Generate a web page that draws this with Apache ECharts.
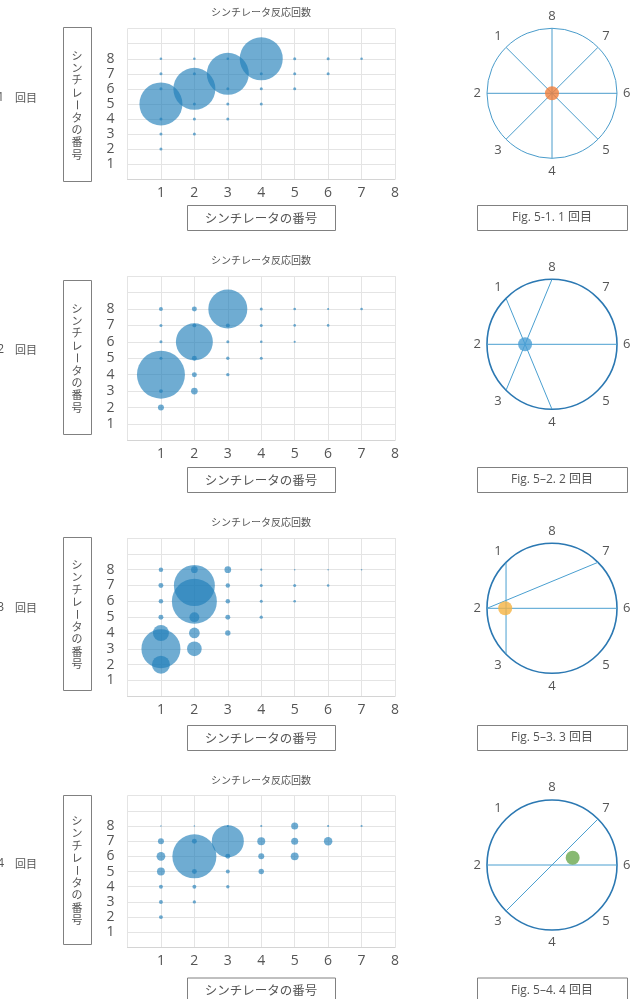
<!DOCTYPE html>
<html><head><meta charset="utf-8">
<script src="https://cdn.jsdelivr.net/npm/echarts@6/dist/echarts.min.js"></script>
<style>html,body{margin:0;padding:0;background:#fff}#c{width:640px;height:999px}</style>
</head><body><div id="c"></div>
<script>
// ---------- data ----------
const chartTitle = 'シンチレータ反応回数';
const axisTitle = 'シンチレータの番号';
const roundNums = ['1', '2', '3', '4'];
const roundSuffix = '回目';
const figCaptions = ['Fig. 5-1. 1 回目', 'Fig. 5–2. 2 回目', 'Fig. 5–3. 3 回目', 'Fig. 5–4. 4 回目'];
const xTickLabels = ['', '1', '2', '3', '4', '5', '6', '7', '8'];
const yTickLabels = ['', '1', '2', '3', '4', '5', '6', '7', '8', '', ''];
const circleLabels = ['8', '1', '2', '3', '4', '5', '6', '7', '8'];

// scintillator pairs (x = first, y = second)
const pairX = [1,1,1,1,1,1,1, 2,2,2,2,2,2, 3,3,3,3,3, 4,4,4,4, 5,5,5, 6,6, 7];
const pairY = [2,3,4,5,6,7,8, 3,4,5,6,7,8, 4,5,6,7,8, 5,6,7,8, 6,7,8, 7,8, 8];
// reaction counts per pair
const counts1 = [4,4,4,822,4,4,3, 4,4,4,784,4,3, 4,4,4,784,3, 4,4,4,822, 4,4,4, 4,4, 3];
const counts2 = [16,7,1024,4,4,4,7, 20,11,11,608,7,11, 5,5,4,7,676, 4,3,4,4, 2,3,3, 3,2, 3];
const counts3 = [144,676,114,11,9,11,9, 96,51,44,900,747,20, 13,11,9,9,20, 5,4,4,2, 3,4,1, 3,1, 1];
const counts4 = [7,7,7,28,34,16,1, 5,7,11,860,11,1, 5,7,11,455,2, 13,16,28,2, 28,22,22, 32,2, 2];
const allCounts = [counts1, counts2, counts3, counts4];

// chords in the circle diagrams (by scintillator number)
const chords1 = [[8,4],[1,5],[2,6],[3,7]];
const chords2 = [[8,3],[1,4],[2,6]];
const chords3 = [[1,3],[2,7],[2,6]];
const chords4 = [[7,3],[2,6]];
const allChords = [chords1, chords2, chords3, chords4];
// estimated source point: [radius fraction, angular position in scintillator units]
const dotPos = [[0, 0], [0.414, 2], [0.72, 2], [0.337, 6.43]];
const dotColors = ['#f07f3c', '#4a9fd4', '#f5b342', '#6aa84f'];

// ---------- layout ----------
const panels = [
  {gridTop: 28.7,  gridH: 150.4, titleY: 12,  xBoxY: 205,   yBox: [27, 181],  roundY: 98,  cy: 93.3},
  {gridTop: 276.1, gridH: 164.3, titleY: 260, xBoxY: 467,   yBox: [280, 434], roundY: 350, cy: 344.3},
  {gridTop: 538,   gridH: 158.3, titleY: 522, xBoxY: 725,   yBox: [537, 690], roundY: 608, cy: 608.3},
  {gridTop: 795.6, gridH: 151.9, titleY: 780, xBoxY: 977.5, yBox: [795, 944], roundY: 864, cy: 865}
];
const FONT = "'Open Sans','Noto Sans CJK JP',sans-serif";
const JFONT = "'Noto Sans CJK JP','Open Sans',sans-serif";
const TXT = '#555';
const bubbleColor = 'rgba(30,125,185,0.8)';

const grid = [], xAxis = [], yAxis = [], polar = [], angleAxis = [], radiusAxis = [], series = [], graphic = [];

panels.forEach((p, i) => {
  grid.push({left: 127.5, width: 267.5, top: p.gridTop, height: p.gridH});
  xAxis.push({
    gridIndex: i, type: 'value', min: 0, max: 8, interval: 1,
    axisLine: {show: true, lineStyle: {color: '#d4d4d4'}},
    axisTick: {show: false},
    splitLine: {show: true, lineStyle: {color: '#e4e4e4'}},
    axisLabel: {margin: 7, fontFamily: FONT, fontSize: 14, color: TXT, formatter: v => xTickLabels[v] || ''}
  });
  yAxis.push({
    gridIndex: i, type: 'value', min: 0, max: 10, interval: 1,
    axisLine: {show: false}, axisTick: {show: false},
    splitLine: {show: true, lineStyle: {color: '#e4e4e4'}},
    axisLabel: {margin: 13, fontFamily: FONT, fontSize: 14, color: TXT, formatter: v => yTickLabels[v] || ''}
  });
  series.push({
    type: 'scatter', xAxisIndex: i, yAxisIndex: i,
    data: pairX.map((x, k) => [x, pairY[k], allCounts[i][k]]),
    symbolSize: d => 1.5 * Math.sqrt(d[2]),
    itemStyle: {color: bubbleColor},
    animation: false, silent: true
  });

  const circColor = i === 0 ? '#4a9ccb' : '#2b78b2';
  const circW = i === 0 ? 1 : 1.6;
  const chordColor = i === 0 ? '#4a9ccb' : '#4a9fd0';
  polar.push({center: [552, p.cy], radius: 65});
  angleAxis.push({
    polarIndex: i, type: 'value', min: 0, max: 8, interval: 1, startAngle: 90, clockwise: false,
    axisLine: {show: true, lineStyle: {color: circColor, width: circW}},
    axisTick: {show: false}, splitLine: {show: false}, splitArea: {show: false},
    axisLabel: {margin: 6, fontFamily: FONT, fontSize: 13, color: TXT, formatter: v => circleLabels[v]}
  });
  radiusAxis.push({
    polarIndex: i, type: 'value', min: 0, max: 1,
    axisLine: {show: false}, axisTick: {show: false}, axisLabel: {show: false}, splitLine: {show: false}
  });
  allChords[i].forEach(c => {
    series.push({
      type: 'line', coordinateSystem: 'polar', polarIndex: i,
      data: [[1, c[0]], [1, c[1]]], symbol: 'none',
      lineStyle: {color: chordColor, width: 1}, animation: false, silent: true
    });
  });
  series.push({
    type: 'scatter', coordinateSystem: 'polar', polarIndex: i,
    data: [dotPos[i]], symbolSize: 14, z: 10,
    itemStyle: {color: dotColors[i]}, animation: false, silent: true
  });

  // chart title
  graphic.push({type: 'text', x: 261, y: p.titleY,
    style: {text: chartTitle, fontFamily: JFONT, fontSize: 10, fill: TXT, align: 'center', verticalAlign: 'middle'}});
  // x-axis title box
  graphic.push({type: 'rect', shape: {x: 187.5, y: p.xBoxY + 0.5, width: 148, height: 25},
    style: {fill: 'none', stroke: '#808080', lineWidth: 1}});
  graphic.push({type: 'text', x: 261, y: p.xBoxY + 13,
    style: {text: axisTitle, fontFamily: JFONT, fontSize: 12.5, fill: TXT, align: 'center', verticalAlign: 'middle'}});
  // caption box
  graphic.push({type: 'rect', shape: {x: 477.5, y: p.xBoxY + 0.5, width: 150, height: 25},
    style: {fill: 'none', stroke: '#808080', lineWidth: 1}});
  graphic.push({type: 'text', x: 552, y: p.xBoxY + 13,
    style: {text: figCaptions[i], fontFamily: FONT, fontSize: 12, fill: TXT, align: 'center', verticalAlign: 'middle'}});
  // y-axis title box (vertical text)
  graphic.push({type: 'rect', shape: {x: 63.5, y: p.yBox[0] + 0.5, width: 28, height: p.yBox[1] - p.yBox[0]},
    style: {fill: 'none', stroke: '#808080', lineWidth: 1}});
  const chars = axisTitle.split('');
  const step = 12.4;
  const midY = (p.yBox[0] + p.yBox[1]) / 2 + 1;
  chars.forEach((ch, k) => {
    graphic.push({type: 'text', x: 77, y: midY + (k - (chars.length - 1) / 2) * step,
      rotation: ch === 'ー' ? -Math.PI / 2 : 0,
      style: {text: ch, fontFamily: JFONT, fontSize: 11, lineHeight: 11, fill: TXT, align: 'center', verticalAlign: 'middle'}});
  });
  // round label
  graphic.push({type: 'text', x: 4, y: p.roundY,
    style: {text: roundNums[i], fontFamily: FONT, fontSize: 12, fill: TXT, align: 'right', verticalAlign: 'middle'}});
  graphic.push({type: 'text', x: 15, y: p.roundY,
    style: {text: roundSuffix, fontFamily: JFONT, fontSize: 11, fill: TXT, align: 'left', verticalAlign: 'middle'}});
});

const chart = echarts.init(document.getElementById('c'), null, {renderer: 'canvas'});
chart.setOption({
  animation: false,
  backgroundColor: '#fff',
  grid, xAxis, yAxis, polar, angleAxis, radiusAxis, series, graphic
});
</script>
</body></html>
